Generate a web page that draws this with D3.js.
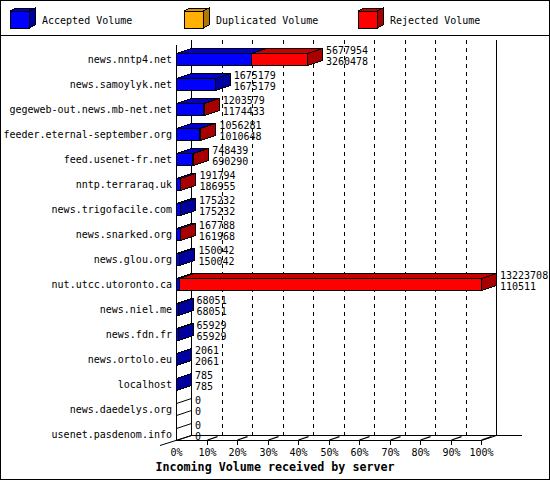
<!DOCTYPE html>
<html lang="en">
<head>
	<meta charset="UTF-8">
	<title>Incoming Volume</title>
	<script src="https://d3js.org/d3.v7.min.js"></script>
	<style>
		body { margin: 0; background: #fff; }
		svg text { font-family: "DejaVu Sans Mono", monospace; font-size: 10px; fill: #000; }
		svg text.title { font-size: 11.7px; font-weight: bold; }
	</style>
</head>
<body>
	<script>

		// servers, top to bottom
		var hosts = ["news.nntp4.net", "news.samoylyk.net", "gegeweb-out.news.mb-net.net",
			"feeder.eternal-september.org", "feed.usenet-fr.net", "nntp.terraraq.uk",
			"news.trigofacile.com", "news.snarked.org", "news.glou.org", "nut.utcc.utoronto.ca",
			"news.niel.me", "news.fdn.fr", "news.ortolo.eu", "localhost",
			"news.daedelys.org", "usenet.pasdenom.info"];

		var accepted = [3260478, 1675179, 1174433, 1010648, 690290, 186955, 175232, 161968,
			150042, 110511, 68051, 65929, 2061, 785, 0, 0];
		var duplicated = [0, 0, 0, 0, 0, 0, 0, 0, 0, 0, 0, 0, 0, 0, 0, 0];
		var rejected = [2417476, 0, 29146, 45633, 58149, 4839, 0, 5820, 0, 13113197,
			0, 0, 0, 0, 0, 0];

		var seriesNames = ["Accepted Volume", "Duplicated Volume", "Rejected Volume"];
		var tickLabels = ["0%", "10%", "20%", "30%", "40%", "50%", "60%", "70%", "80%", "90%", "100%"];

		var w = 550, h = 480;
		var dx = 15, dy = -5;   // 3d depth
		var colors = [
			{front: "#0000ff", top: "#0000c8", side: "#0000a0"},
			{front: "#ffb000", top: "#d89400", side: "#b07800"},
			{front: "#ff0000", top: "#c80000", side: "#a80000"}
		];

		var series = [accepted, duplicated, rejected];
		var totals = hosts.map(function(d, i){ return accepted[i] + duplicated[i] + rejected[i]; });
		var maxTotal = d3.max(totals);

		var x = d3.scaleLinear().domain([0, maxTotal]).range([176, 481]);
		var xPct = d3.scaleLinear().domain([0, 100]).range([176, 481]);
		var y = d3.scalePoint().domain(hosts).range([46.5, 446.5]).padding(0.5);
		var barH = 12;

		var svg = d3.select("body").append("svg")
			.attr("width", w).attr("height", h)
			.attr("shape-rendering", "crispEdges");

		svg.append("rect").attr("x", 0.5).attr("y", 0.5)
			.attr("width", w - 1).attr("height", h - 1)
			.attr("fill", "#fff").attr("stroke", "#000");

		// legend
		svg.append("line").attr("x1", 0).attr("x2", w).attr("y1", 35.5).attr("y2", 35.5).attr("stroke", "#000");
		var legX = [10, 184, 358];
		seriesNames.forEach(function(name, i){
			box(legX[i], 11, legX[i] + 19, 28, colors[i], 6, -3);
			svg.append("text").attr("x", legX[i] + 32).attr("y", 24).text(name);
		});

		function line(x1, y1, x2, y2, dash){
			var l = svg.append("line")
				.attr("x1", x1).attr("y1", y1).attr("x2", x2).attr("y2", y2)
				.attr("stroke", "#000");
			if (dash) l.attr("stroke-dasharray", dash);
			return l;
		}

		function slant(x1, y1, x2, y2, sw){
			return line(x1, y1, x2, y2).attr("shape-rendering", "auto").attr("stroke-width", sw || 1);
		}

		function poly(pts, fill){
			return svg.append("polygon")
				.attr("points", pts.map(function(p){ return p.join(","); }).join(" "))
				.attr("fill", fill).attr("stroke", "#000");
		}

		function box(x0, t, x1, b, c, ddx, ddy){
			poly([[x0, t], [x0 + ddx, t + ddy], [x1 + ddx, t + ddy], [x1, t]], c.top);
			poly([[x1, t], [x1 + ddx, t + ddy], [x1 + ddx, b + ddy], [x1, b]], c.side);
			poly([[x0, t], [x1, t], [x1, b], [x0, b]], c.front);
		}

		// back walls and grid
		xPct.ticks(10).slice(1, 10).forEach(function(p){
			var xb = Math.round(xPct(p) + dx) + 0.5;
			line(xb, 40, xb, 435, "4,4");
		});
		line(191.5, 40, 191.5, 435.5);
		line(496.5, 40, 496.5, 435.5);
		line(191.5, 435.5, 522, 435.5);

		// front axes
		line(176.5, 45, 176.5, 440.5);
		line(176.5, 440.5, 481.5, 440.5);
		slant(160, 445.5, 191.5, 435.5);
		slant(481.5, 440.5, 496.5, 435.5);

		xPct.ticks(10).forEach(function(p, k){
			var xf = Math.round(xPct(p)) + 0.5;
			if (k > 0) {
				line(xf, 440.5, xf, 445);
				slant(xf, 440, xf + 10, 436.7, 1.3);
			}
			svg.append("text").attr("x", xf).attr("y", 455.5)
				.attr("text-anchor", "middle").text(tickLabels[k]);
		});

		// bars
		hosts.forEach(function(host, i){
			var c = y(host);
			var t = Math.round(c - barH / 2) + 0.5, b = t + barH;
			if (totals[i] === 0) {
				slant(176.5, t, 176.5 + dx, t + dy);
				slant(176.5, b, 176.5 + dx, b + dy);
			}
			var start = 0;
			series.forEach(function(s, j){
				if (s[i] === 0) return;
				var x0 = Math.round(x(start)) + 0.5;
				var x1 = x(start + s[i]);
				x1 = Math.max(x0, Math.round(x1) + 0.5);
				box(x0, t, x1, b, colors[j], dx, dy);
				start += s[i];
			});

			svg.append("text").attr("x", 172).attr("y", c + 4)
				.attr("text-anchor", "end").text(host);

			var lx = x(totals[i]) + dx + 4;
			svg.append("text").attr("x", lx).attr("y", c - 5.5).text(totals[i]);
			svg.append("text").attr("x", lx).attr("y", c + 5.5).text(accepted[i]);
		});

		svg.append("text").attr("class", "title")
			.attr("x", 275).attr("y", 471)
			.attr("text-anchor", "middle")
			.text("Incoming Volume received by server");

	</script>
</body>
</html>
